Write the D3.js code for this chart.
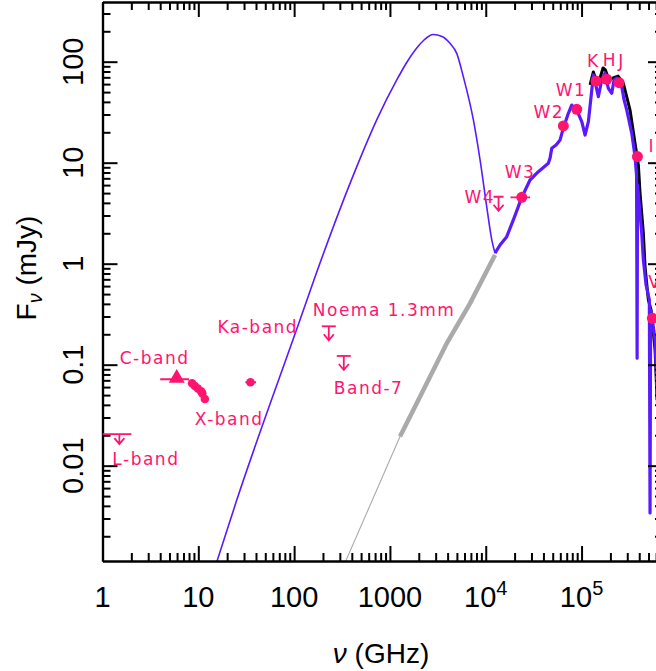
<!DOCTYPE html>
<html>
<head>
<meta charset="utf-8">
<script src="https://cdn.jsdelivr.net/npm/d3@7"></script>
<style>
  body { margin: 0; background: #fff; }
  svg { display: block; }
</style>
</head>
<body>
<div id="chart"></div>
<script>
// SED values: frequency in GHz, flux density in mJy

// cold dust component (smooth modified blackbody)
const dustNu = [15.7, 25.2, 115, 161, 450, 728, 1178, 1497, 1905, 2270, 2818, 3499, 4236, 4980, 5834, 7430, 8730, 10240, 11560, 12500];
const dustF  = [0.00114, 0.00457, 0.277, 0.69, 9.1, 26.5, 65.9, 98.2, 136.7, 164, 186, 177.8, 152, 121, 71, 26.5, 10.6, 3.66, 1.72, 1.27];

// total model spectrum, disk + photosphere (blue, noisy)
const specNu = [12500, 14100, 16560, 19730, 23770, 28970, 35400, 45000, 46900, 48860, 54200, 59700, 64600, 72800, 79000,
                89100, 100500, 108800, 117800, 127900, 132800, 138400, 149700, 162400, 175900, 190400, 206600, 218300,
                232900, 262700, 277900, 296400, 334300, 361600, 375000, 380000, 383700, 391500, 424800, 441500, 471300,
                510000, 518500, 526000, 544500, 585000, 640000];
const specF  = [1.27, 1.53, 1.85, 2.83, 4.54, 6.74, 8.15, 9.86, 11.1, 13.9, 15.0, 16.8, 22.1, 30.8, 37.2,
                33.2, 25.5, 18.8, 25.5, 52.5, 73.9, 63, 45, 65.9, 76.8, 54.5, 48.7, 65.9,
                69, 56.5, 41.8, 33.2, 19.5, 11.5, 7.55, 0.116, 6.0, 4.97, 2.0, 1.09, 0.615,
                0.438, 0.0034, 0.348, 0.29, 0.176, 0.02];

// stellar photosphere, Rayleigh-Jeans side (grey)
const photNuRJ = [326, 1274, 2234, 3917, 6855, 12500];
const photFRJ  = [0.001, 0.0194, 0.0562, 0.163, 0.405, 1.22];

// stellar photosphere, near-IR / optical (black)
const starNu = [122700, 132800, 141600, 156000, 167600, 177200, 193600, 213300, 240600, 273000, 320600, 361600,
                391500, 408000, 441500, 460000, 497800, 531000, 557000, 585000, 614000];
const starF  = [58.8, 79.1, 65.9, 69, 86.7, 82.8, 65.9, 69, 72.1, 61.1, 33.2, 15.6,
                9.5, 4.97, 2.01, 0.93, 0.438, 0.348, 0.221, 0.14, 0.0447];

// photometry detections
const photNames = ["W3", "W2", "W1", "K", "H", "J", "I", "V"];
const photNu = [23770, 64600, 89100, 141600, 183000, 246700, 383000, 548000];
const photF  = [4.54, 23.1, 33.8, 64.4, 67, 62, 11.5, 0.288];
const w3Range = [18100, 29000];

// radio detections (X-band sub-bands and Ka-band)
const radioNu = [8.6, 9.2, 9.9, 10.7, 11.0, 11.7, 35];
const radioF  = [0.0655, 0.0615, 0.058, 0.0545, 0.052, 0.0457, 0.067];
const kaRange = [31, 40];

// C-band (triangle)
const cbandNu = 5.95, cbandF = 0.0717, cbandRange = [4, 8];

// upper limits
const limitNames = ["L-band", "Noema 1.3mm", "Band-7", "W4"];
const limitNu = [1.5, 230, 330, 13600];
const limitF  = [0.0205, 0.24, 0.122, 4.6];
const lbandRange = [1, 2];

// axis ticks
const xMajor = [1, 10, 100, 1000, 1e4, 1e5];
const xLabels = ["1", "10", "100", "1000", "10^4", "10^5"];
const yMajor = [0.01, 0.1, 1, 10, 100];
const yLabels = ["0.01", "0.1", "1", "10", "100"];

const width = 656, height = 671;
const pink = "#ff1470", blue = "#5a1aff";
const tickFont = "Liberation Sans, Arial, sans-serif";
const labelFont = "DejaVu Sans, sans-serif";

const x = d3.scaleLog().domain([1, Math.pow(10, 5.85)]).range([102.5, 663]);
const y = d3.scaleLog().domain([0.001138, 390]).range([561, 2]);

const svg = d3.select("#chart").append("svg")
    .attr("width", width)
    .attr("height", height);

svg.append("clipPath").attr("id", "plot")
  .append("rect")
    .attr("x", x.range()[0]).attr("y", y.range()[1])
    .attr("width", x.range()[1] - x.range()[0])
    .attr("height", y.range()[0] - y.range()[1]);

const zip = (a, b) => a.map((v, i) => [v, b[i]]);
const lineLin = d3.line().x(d => x(d[0])).y(d => y(d[1]));
const lineSmooth = d3.line().x(d => x(d[0])).y(d => y(d[1])).curve(d3.curveMonotoneX);

const plot = svg.append("g").attr("clip-path", "url(#plot)");

// grey photosphere: thin at low frequency, broad noisy band above ~1 THz
plot.append("path")
    .attr("d", lineLin(zip(photNuRJ, photFRJ)))
    .attr("fill", "none").attr("stroke", "#aaaaaa").attr("stroke-width", 1.1);
plot.append("path")
    .attr("d", lineLin(zip(photNuRJ, photFRJ).filter(d => d[0] >= 1274)))
    .attr("fill", "none").attr("stroke", "#aaaaaa").attr("stroke-width", 4.5);

// dust bump
plot.append("path")
    .attr("d", lineSmooth(zip(dustNu, dustF)))
    .attr("fill", "none").attr("stroke", blue).attr("stroke-width", 1.6);

// black photosphere
plot.append("path")
    .attr("d", lineLin(zip(starNu, starF)))
    .attr("fill", "none").attr("stroke", "#000").attr("stroke-width", 3)
    .attr("stroke-linejoin", "round");

// blue total spectrum
plot.append("path")
    .attr("d", lineLin(zip(specNu, specF)))
    .attr("fill", "none").attr("stroke", blue).attr("stroke-width", 3.2)
    .attr("stroke-linejoin", "round");

// ---- axes (ticks inside on all four sides)
const xMinor = d3.range(0, 6).flatMap(k => d3.range(2, 10).map(m => m * Math.pow(10, k)))
    .filter(v => v < x.domain()[1]);
const yMinor = d3.range(-3, 3).flatMap(k => d3.range(2, 10).map(m => m * Math.pow(10, k)))
    .filter(v => v > y.domain()[0] && v < y.domain()[1]);

function drawAxis(axisFn, scale, pos, transform) {
  [[pos.major, 15], [pos.minor, 8]].forEach(([vals, size]) => {
    const g = svg.append("g")
        .attr("transform", transform)
        .call(axisFn(scale).tickValues(vals).tickSize(-size).tickSizeOuter(0).tickFormat(""));
    g.selectAll("line").attr("stroke", "#000").attr("stroke-width", 2);
    g.select(".domain").attr("stroke", "#000").attr("stroke-width", 2.2);
  });
}
drawAxis(d3.axisBottom, x, {major: xMajor, minor: xMinor}, `translate(0,${y.range()[0]})`);
drawAxis(d3.axisTop, x, {major: xMajor, minor: xMinor}, `translate(0,${y.range()[1]})`);
drawAxis(d3.axisLeft, y, {major: yMajor, minor: yMinor}, `translate(${x.range()[0]},0)`);
drawAxis(d3.axisRight, y, {major: yMajor, minor: yMinor}, `translate(${x.range()[1]},0)`);

// x tick labels (10^4 written with superscript)
xMajor.forEach((v, i) => {
  const t = svg.append("text")
      .attr("x", x(v)).attr("y", 607)
      .attr("text-anchor", "middle")
      .style("font-family", tickFont).style("font-size", "29px");
  const parts = xLabels[i].split("^");
  t.append("tspan").text(parts[0]);
  if (parts[1]) t.append("tspan").attr("dy", -12).style("font-size", "20px").text(parts[1]);
});

// y tick labels, rotated
yMajor.forEach((v, i) => {
  svg.append("text")
      .attr("transform", `translate(83,${y(v)}) rotate(-90)`)
      .attr("text-anchor", "middle")
      .style("font-family", tickFont).style("font-size", "29px")
      .text(yLabels[i]);
});

// axis titles
const xt = svg.append("text")
    .attr("x", 381).attr("y", 663)
    .attr("text-anchor", "middle")
    .style("font-family", tickFont).style("font-size", "28px");
xt.append("tspan").style("font-style", "italic").text("ν");
xt.append("tspan").text(" (GHz)");

const yt = svg.append("text")
    .attr("transform", "translate(36,268) rotate(-90)")
    .attr("text-anchor", "middle")
    .style("font-family", tickFont).style("font-size", "28px");
yt.append("tspan").text("F");
yt.append("tspan").attr("dy", 6).style("font-size", "20px").style("font-style", "italic").text("ν");
yt.append("tspan").attr("dy", -6).text(" (mJy)");

// ---- data markers
const marks = svg.append("g").attr("clip-path", "url(#plot)");

// error bars (horizontal bandwidth)
function hbar(nu0, nu1, f) {
  marks.append("line")
      .attr("x1", x(nu0)).attr("x2", x(nu1))
      .attr("y1", y(f)).attr("y2", y(f))
      .attr("stroke", pink).attr("stroke-width", 1.8);
}
hbar(cbandRange[0], cbandRange[1], cbandF);
hbar(kaRange[0], kaRange[1], radioF[radioF.length - 1]);
hbar(w3Range[0], w3Range[1], photF[0]);

// upper-limit arrows
limitNames.forEach((name, i) => {
  const cx = x(limitNu[i]), cy = y(limitF[i]);
  const len = name === "L-band" ? 10 : 14;
  const half = name === "W4" ? 5 : 7;
  if (name === "L-band") hbar(lbandRange[0], lbandRange[1], limitF[i]);
  else marks.append("line").attr("x1", cx - half).attr("x2", cx + half).attr("y1", cy).attr("y2", cy)
      .attr("stroke", pink).attr("stroke-width", 1.8);
  marks.append("path")
      .attr("d", `M${cx},${cy}V${cy + len}M${cx - 5},${cy + len - 6}L${cx},${cy + len}L${cx + 5},${cy + len - 6}`)
      .attr("fill", "none").attr("stroke", pink).attr("stroke-width", 1.8);
});

// C-band triangle
marks.append("path")
    .attr("transform", `translate(${x(cbandNu)},${y(cbandF) - 1})`)
    .attr("d", d3.symbol(d3.symbolTriangle, 110)())
    .attr("fill", pink);

// radio dots
marks.selectAll(".radio").data(zip(radioNu, radioF)).enter().append("circle")
    .attr("cx", d => x(d[0])).attr("cy", d => y(d[1]))
    .attr("r", 4.3).attr("fill", pink);

// IR / optical photometry
marks.selectAll(".phot").data(zip(photNu, photF)).enter().append("circle")
    .attr("cx", d => x(d[0])).attr("cy", d => y(d[1]))
    .attr("r", 5.5).attr("fill", pink);

// ---- labels, offset in pixels from their marker
const labelOffset = {
  "L-band": [-7, 31], "C-band": [-57, -15], "X-band": [-10, 26], "Ka-band": [-33, -49],
  "Noema 1.3mm": [-16, -10], "Band-7": [-10, 38], "W4": [-34, 6],
  "W3": [-17, -19], "W2": [-30, -8], "W1": [-21, -13],
  "K": [-9, -14], "H": [-4, -13], "J": [-1, -16], "I": [11, -5], "V": [-4, -30]
};
const labelAnchor = {};
limitNames.forEach((n, i) => labelAnchor[n] = [limitNu[i], limitF[i]]);
photNames.forEach((n, i) => labelAnchor[n] = [photNu[i], photF[i]]);
labelAnchor["C-band"] = [cbandNu, cbandF];
labelAnchor["X-band"] = [radioNu[5], radioF[5]];
labelAnchor["Ka-band"] = [radioNu[6], radioF[6]];

Object.keys(labelOffset).forEach(name => {
  const a = labelAnchor[name], off = labelOffset[name];
  svg.append("text")
      .attr("x", x(a[0]) + off[0]).attr("y", y(a[1]) + off[1])
      .style("font-family", labelFont).style("font-size", "17px")
      .style("letter-spacing", "1.5px")
      .attr("fill", pink)
      .text(name);
});
</script>
</body>
</html>
